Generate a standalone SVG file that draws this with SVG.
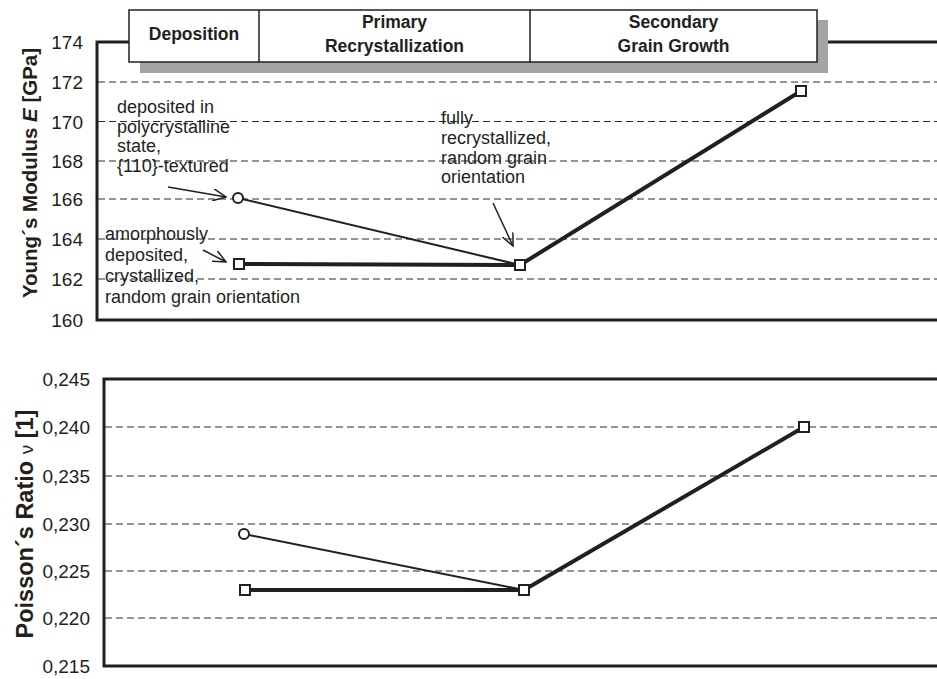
<svg xmlns="http://www.w3.org/2000/svg" width="937" height="679" viewBox="0 0 937 679">
<defs>
<style>
text{font-family:"Liberation Sans",Arial,sans-serif;fill:#231f20}
.tick{font-size:19px;text-anchor:end}
.ann{font-size:18px}
.hdr{font-size:17.5px;font-weight:bold;text-anchor:middle}
.ttl{font-weight:bold;text-anchor:middle}
.frame{fill:none;stroke:#231f20;stroke-width:3}
.grid{fill:none;stroke:#2a2a2a;stroke-width:1;stroke-dasharray:7 4}
.thick{fill:none;stroke:#231f20;stroke-width:4}
.thin{fill:none;stroke:#231f20;stroke-width:2}
.arr{fill:none;stroke:#231f20;stroke-width:1.5}
.sq{fill:#fff;stroke:#231f20;stroke-width:2}
</style>
<marker id="ah" viewBox="0 0 14 12" refX="13" refY="6" markerWidth="14" markerHeight="12" markerUnits="userSpaceOnUse" orient="auto">
<path d="M0,0 L13,6 L0,12" fill="none" stroke="#231f20" stroke-width="1.5"/>
</marker>
</defs>
<rect width="937" height="679" fill="#fff"/>

<!-- Top chart -->
<g id="top-chart">
<g id="top-grid">
<line class="grid" x1="98" y1="82" x2="937" y2="82"/>
<line class="grid" x1="98" y1="121.5" x2="937" y2="121.5"/>
<line class="grid" x1="98" y1="161" x2="937" y2="161"/>
<line class="grid" x1="98" y1="199" x2="937" y2="199"/>
<line class="grid" x1="98" y1="239" x2="937" y2="239"/>
<line class="grid" x1="98" y1="279" x2="937" y2="279"/>
</g>
<path class="frame" d="M937,42 L97,42 L97,320 L937,320"/>
<g id="top-ticks">
<text class="tick" x="83" y="49">174</text>
<text class="tick" x="83" y="89">172</text>
<text class="tick" x="83" y="128.5">170</text>
<text class="tick" x="83" y="168">168</text>
<text class="tick" x="83" y="206">166</text>
<text class="tick" x="83" y="246">164</text>
<text class="tick" x="83" y="286">162</text>
<text class="tick" x="83" y="327">160</text>
</g>
<text class="ttl" font-size="20.5" transform="translate(37,173) rotate(-90)">Young´s Modulus <tspan font-style="italic">E</tspan> [GPa]</text>
</g>

<g id="phase-header">
<rect x="140" y="20" width="688" height="53" fill="#a4a4a4"/>
<rect x="129" y="10" width="688" height="52" fill="#fff" stroke="#231f20" stroke-width="1.5"/>
<line x1="259" y1="10" x2="259" y2="62" stroke="#231f20" stroke-width="1.5"/>
<line x1="530" y1="10" x2="530" y2="62" stroke="#231f20" stroke-width="1.5"/>
<g id="phase-deposition"><text class="hdr" x="194" y="40">Deposition</text></g>
<g id="phase-primary"><text class="hdr" x="394.5" y="28">Primary</text><text class="hdr" x="394.5" y="52">Recrystallization</text></g>
<g id="phase-secondary"><text class="hdr" x="673.5" y="28">Secondary</text><text class="hdr" x="673.5" y="52">Grain Growth</text></g>
</g>

<g id="top-connectors">
<polyline class="thick" points="239,264 520,265 801,91"/>
<line class="thin" x1="238" y1="198" x2="520" y2="265"/>
<line class="arr" x1="168" y1="187" x2="226" y2="197" marker-end="url(#ah)"/>
<line class="arr" x1="203" y1="250" x2="226" y2="262" marker-end="url(#ah)"/>
<line class="arr" x1="493" y1="203" x2="513" y2="246" marker-end="url(#ah)"/>
</g>
<g id="top-points">
<circle cx="238" cy="198" r="5" class="sq"/>
<rect x="234" y="259" width="10" height="10" class="sq"/>
<rect x="515" y="260" width="10" height="10" class="sq"/>
<rect x="796" y="86" width="10" height="10" class="sq"/>
</g>

<g id="note-polycrystalline">
<text class="ann" x="117" y="113">deposited in</text>
<text class="ann" x="117" y="132.5">polycrystalline</text>
<text class="ann" x="117" y="152">state,</text>
<text class="ann" x="117" y="171.5">{110}-textured</text>
</g>
<g id="note-amorphous">
<text class="ann" x="105" y="240">amorphously</text>
<text class="ann" x="105" y="261">deposited,</text>
<text class="ann" x="105" y="282">crystallized,</text>
<text class="ann" x="105" y="302.5">random grain orientation</text>
</g>
<g id="note-recrystallized">
<text class="ann" x="441" y="124">fully</text>
<text class="ann" x="441" y="144">recrystallized,</text>
<text class="ann" x="441" y="163.5">random grain</text>
<text class="ann" x="441" y="183">orientation</text>
</g>

<!-- Bottom chart -->
<g id="bottom-chart">
<g id="bottom-grid">
<line class="grid" x1="105" y1="427" x2="937" y2="427"/>
<line class="grid" x1="105" y1="476" x2="937" y2="476"/>
<line class="grid" x1="105" y1="524" x2="937" y2="524"/>
<line class="grid" x1="105" y1="571" x2="937" y2="571"/>
<line class="grid" x1="105" y1="618" x2="937" y2="618"/>
</g>
<path class="frame" d="M937,379 L104,379 L104,666 L937,666"/>
<g id="bottom-ticks">
<text class="tick" x="90" y="386">0,245</text>
<text class="tick" x="90" y="434">0,240</text>
<text class="tick" x="90" y="483">0,235</text>
<text class="tick" x="90" y="531">0,230</text>
<text class="tick" x="90" y="578">0,225</text>
<text class="tick" x="90" y="625">0,220</text>
<text class="tick" x="90" y="673">0,215</text>
</g>
<text class="ttl" font-size="23.5" transform="translate(33,524) rotate(-90)">Poisson´s Ratio <tspan font-weight="normal" font-size="19">ν</tspan> [1]</text>
</g>

<g id="bottom-connectors">
<polyline class="thick" points="245,590 524,590 804,427"/>
<line class="thin" x1="244" y1="534" x2="524" y2="590"/>
</g>
<g id="bottom-points">
<circle cx="244" cy="534" r="5" class="sq"/>
<rect x="240" y="585" width="10" height="10" class="sq"/>
<rect x="519" y="585" width="10" height="10" class="sq"/>
<rect x="799" y="422" width="10" height="10" class="sq"/>
</g>
</svg>
